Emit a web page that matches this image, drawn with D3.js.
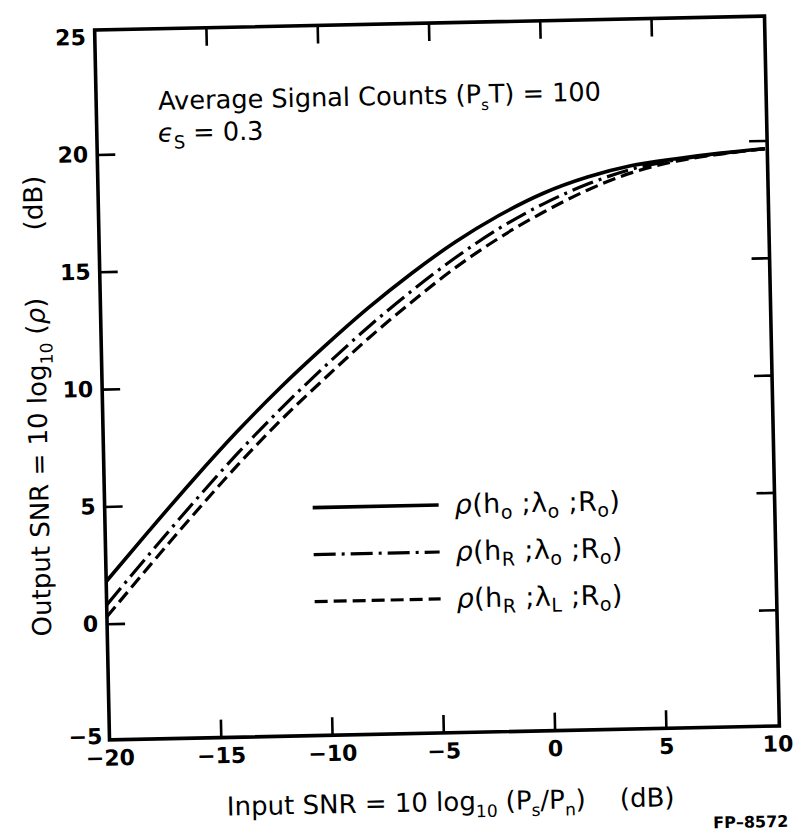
<!DOCTYPE html>
<html><head><meta charset="utf-8">
<script src="https://cdn.jsdelivr.net/npm/d3@7"></script>
<style>
html,body{margin:0;padding:0;background:#fff;}
svg{display:block;}
text{font-family:"DejaVu Sans",sans-serif;fill:#000;}
</style></head><body>
<svg id="chart" width="799" height="836"></svg>
<script>
// ---- data ----
const inputSNR = [-20,-18,-16,-14,-12,-10,-8,-6,-4,-2,0,2,4,6,8,10];
const rhoHoLoRo = [1.8,3.95,6.05,8.05,9.9,11.6,13.2,14.65,15.95,17.05,17.95,18.6,19.05,19.3,19.5,19.65];
const rhoHRLoRo = [0.8,2.97,5.09,7.12,9.0,10.75,12.4,13.91,15.29,16.5,17.5,18.3,18.9,19.25,19.48,19.65];
const rhoHRLLRo = [0.3,2.47,4.59,6.63,8.52,10.25,11.92,13.45,14.87,16.1,17.15,18.05,18.75,19.2,19.46,19.65];
const legendLabels = ["*ρ*(h_{o} ;λ_{o} ;R_{o})", "*ρ*(h_{R} ;λ_{o} ;R_{o})", "*ρ*(h_{R} ;λ_{L} ;R_{o})"];
const xTickLabels = [-20,-15,-10,-5,0,5,10];
const yTickLabels = [-5,0,5,10,15,20,25];
const xInnerTicks = [-15,-10,-5,0,5];
const yInnerTicks = [0,5,10,15,20];
const xDomain = [-20, 10.1];
const yDomain = [-4.95, 25.3];
const xTitle = "Input SNR = 10 log_{10} (P_{s}/P_{n})";
const yTitle = "Output SNR = 10 log_{10} (*ρ*)";
const unitLabel = "(dB)";
const note1 = "Average Signal Counts (P_{s}T) = 100";
const note2 = "*ϵ*_{S} = 0.3";
const figId = "FP–8572";

// ---- helpers ----
function rich(sel, str, subSize, subDy) {
  const toks = str.split(/(_\{[^}]*\}|\*[^*]*\*)/).filter(s => s.length);
  let lowered = false;
  toks.forEach(t => {
    const ts = sel.append("tspan");
    if (t.startsWith("_{")) {
      ts.text(t.slice(2, -1)).attr("font-size", subSize).attr("dy", subDy);
      lowered = true;
    } else {
      if (lowered) { ts.attr("dy", -subDy); lowered = false; }
      if (t.startsWith("*")) ts.text(t.slice(1, -1)).attr("font-style", "italic");
      else ts.text(t);
    }
  });
  return sel;
}

const svg = d3.select("#chart");
const g = svg.append("g").attr("transform", "rotate(-1.2,437,378)");

const x = d3.scaleLinear().domain(xDomain).range([102, 772]);
const y = d3.scaleLinear().domain(yDomain).range([733, 23]);

const pLeft = x.range()[0], pRight = x.range()[1], pTop = y.range()[1], pBottom = y.range()[0];

// frame
g.append("rect")
  .attr("x", pLeft).attr("y", pTop)
  .attr("width", pRight - pLeft).attr("height", pBottom - pTop)
  .attr("fill", "none").attr("stroke", "#000").attr("stroke-width", 3.6);

// inward ticks on all four sides
const tl = 18;
function ticksOnly(axis, tf) {
  const a = g.append("g").attr("transform", tf).call(axis);
  a.select(".domain").remove();
  a.selectAll("line").attr("stroke", "#000").attr("stroke-width", 2.6);
  a.selectAll("text").remove();
}
ticksOnly(d3.axisBottom(x).tickValues(xInnerTicks).tickSizeInner(-tl).tickSizeOuter(0), `translate(0,${pBottom})`);
ticksOnly(d3.axisTop(x).tickValues(xInnerTicks).tickSizeInner(-tl).tickSizeOuter(0), `translate(0,${pTop})`);
ticksOnly(d3.axisLeft(y).tickValues(yInnerTicks).tickSizeInner(-tl).tickSizeOuter(0), `translate(${pLeft},0)`);
ticksOnly(d3.axisRight(y).tickValues(yInnerTicks).tickSizeInner(-tl).tickSizeOuter(0), `translate(${pRight},0)`);

// tick labels
const fmt = d3.format("");
const bx = g.append("g").attr("transform", `translate(0,${pBottom})`)
  .call(d3.axisBottom(x).tickValues(xTickLabels).tickSize(0).tickPadding(10).tickFormat(fmt));
bx.select(".domain").remove();
bx.selectAll("text").attr("font-size", 22).attr("font-weight", "bold").attr("font-family", "DejaVu Sans");

const ly = g.append("g").attr("transform", `translate(${pLeft},0)`)
  .call(d3.axisLeft(y).tickValues(yTickLabels).tickSize(0).tickPadding(9).tickFormat(fmt));
ly.select(".domain").remove();
ly.selectAll("text").attr("font-size", 22).attr("font-weight", "bold").attr("font-family", "DejaVu Sans")
  .filter(d => d === -5).attr("dy", "0.1em").attr("x", -7);

// curves
const series = [
  {vals: rhoHoLoRo, dash: null, w: 3.6},
  {vals: rhoHRLoRo, dash: "22,6,3,6", w: 3.2},
  {vals: rhoHRLLRo, dash: "13,6", w: 3.2}
];
const line = d3.line().x(d => x(d[0])).y(d => y(d[1])).curve(d3.curveMonotoneX);
series.forEach(s => {
  g.append("path").datum(inputSNR.map((v, i) => [v, s.vals[i]]))
    .attr("d", line).attr("fill", "none").attr("stroke", "#000")
    .attr("stroke-width", s.w).attr("stroke-dasharray", s.dash);
});

// legend
const lg = g.append("g");
series.forEach((s, i) => {
  const yy = 505 + i * 47;
  lg.append("line").attr("x1", 310).attr("x2", 436).attr("y1", yy).attr("y2", yy)
    .attr("stroke", "#000").attr("stroke-width", s.w).attr("stroke-dasharray", s.dash);
  rich(lg.append("text").attr("x", 452).attr("y", yy + 9).attr("font-size", 27)
    .attr("letter-spacing", 0.4), legendLabels[i], 19, 6);
});

// annotations
rich(g.append("text").attr("x", 164).attr("y", 104).attr("font-size", 25.6), note1, 15, 7);
rich(g.append("text").attr("x", 163).attr("y", 136).attr("font-size", 25.6), note2, 18, 7);

// axis titles
rich(g.append("text").attr("x", 218).attr("y", 811).attr("font-size", 26), xTitle, 17, 7);
g.append("text").attr("x", 611).attr("y", 811).attr("font-size", 26).text(unitLabel);

rich(g.append("text").attr("transform", "translate(46,628) rotate(-90)").attr("font-size", 26), yTitle, 17, 7);
g.append("text").attr("transform", "translate(46,222) rotate(-90)").attr("font-size", 26).text(unitLabel);

g.append("text").attr("x", 779).attr("y", 834).attr("text-anchor", "end")
  .attr("font-size", 16).attr("font-weight", "bold").text(figId);
</script>
</body></html>
